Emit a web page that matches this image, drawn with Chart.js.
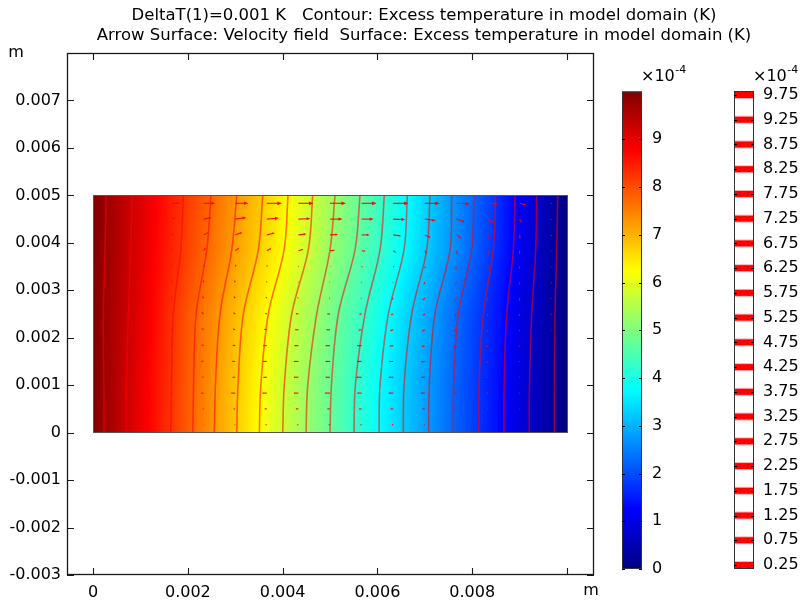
<!DOCTYPE html>
<html><head><meta charset="utf-8">
<script src="https://cdn.jsdelivr.net/npm/chart.js@4.4.1/dist/chart.umd.min.js"></script>
<style>html,body{margin:0;padding:0;background:#fff;}#wrap{width:802px;height:600px;}</style>
</head><body><div id="wrap"><canvas id="c" width="802" height="600"></canvas></div>
<script>
// ---------- text ----------
const titleLines = [
  "DeltaT(1)=0.001 K   Contour: Excess temperature in model domain (K)",
  "Arrow Surface: Velocity field  Surface: Excess temperature in model domain (K)"
];
const axisUnit = "m";
// ---------- axes ----------
const xTickValues = [0, 0.002, 0.004, 0.006, 0.008, 0.01];
const xTickLabels = ["0", "0.002", "0.004", "0.006", "0.008", ""];
const yTickValues = [-0.003, -0.002, -0.001, 0, 0.001, 0.002, 0.003, 0.004, 0.005, 0.006, 0.007];
const yTickLabels = ["-0.003", "-0.002", "-0.001", "0", "0.001", "0.002", "0.003", "0.004", "0.005", "0.006", "0.007"];
// ---------- domain ----------
const domainX = [0, 0.01];
const domainY = [0, 0.005];
const tLeft = 1.0e-3, tRight = 0;   // K at hot / cold wall
const tMax = 1.0e-3, tMin = 0;
// ---------- contours (levels, K) ----------
const contourLevels = [9.75e-4, 9.25e-4, 8.75e-4, 8.25e-4, 7.75e-4, 7.25e-4, 6.75e-4, 6.25e-4, 5.75e-4, 5.25e-4,
                       4.75e-4, 4.25e-4, 3.75e-4, 3.25e-4, 2.75e-4, 2.25e-4, 1.75e-4, 1.25e-4, 0.75e-4, 0.25e-4];
const contourRowY = [0, 0.001, 0.0025, 0.00385, 0.005];
const contourXAtY0 = [0.000232, 0.000696, 0.001167, 0.001639, 0.002103, 0.002559, 0.003032, 0.003508, 0.004002, 0.004494,
                      0.005000, 0.005506, 0.006034, 0.006546, 0.007082, 0.007601, 0.008137, 0.008671, 0.009205, 0.009732];
const contourXAtY1 = [0.000228, 0.000705, 0.001180, 0.001655, 0.002122, 0.002582, 0.003058, 0.003540, 0.004035, 0.004530,
                      0.005030, 0.005535, 0.006055, 0.006562, 0.007095, 0.007610, 0.008143, 0.008675, 0.009208, 0.009734];
const contourXAtY2 = [0.000217, 0.000745, 0.001238, 0.001694, 0.002173, 0.002679, 0.003171, 0.003698, 0.004192, 0.004719,
                      0.005175, 0.005738, 0.006230, 0.006724, 0.007215, 0.007707, 0.008234, 0.008728, 0.009255, 0.009747];
const contourXAtY3 = [0.000253, 0.000795, 0.001308, 0.001850, 0.002399, 0.002926, 0.003487, 0.004030, 0.004542, 0.005000,
                      0.005527, 0.006055, 0.006561, 0.007040, 0.007532, 0.007989, 0.008445, 0.008867, 0.009340, 0.009783];
const contourXAtY4 = [0.000274, 0.000816, 0.001365, 0.001905, 0.002489, 0.003032, 0.003580, 0.004114, 0.004635, 0.005105,
                      0.005633, 0.006146, 0.006631, 0.007110, 0.007568, 0.008038, 0.008496, 0.008903, 0.009361, 0.009804];
const contourRows = [contourXAtY0, contourXAtY1, contourXAtY2, contourXAtY3, contourXAtY4];
// ---------- velocity arrows (relative units) ----------
const arrowX = [0.000333, 0.001, 0.001667, 0.002333, 0.003, 0.003667, 0.004333, 0.005, 0.005667, 0.006333, 0.007, 0.007667, 0.008333, 0.009, 0.009667];
const arrowY = [0.000167, 0.0005, 0.000833, 0.001167, 0.0015, 0.001833, 0.002167, 0.0025, 0.002833, 0.003167, 0.0035, 0.003833, 0.004167, 0.0045, 0.004833];
const arrowU = [
  [0, 0, -0.2, -0.5, -1, -1.5, -1.5, -1.5, -1.5, -1.5, -1, -0.5, 0, 0, 0],
  [0, -0.2, -0.5, -1, -2, -2.5, -3, -3, -3, -3, -2.5, -2, -1, -0.5, 0],
  [0, -0.3, -1, -3, -4.5, -5, -5, -5.5, -5, -5, -4.5, -3.5, -2, -1, 0],
  [0, -0.3, -1, -2, -3, -4, -5, -5, -5.5, -5, -4, -3, -2, -1, 0],
  [0, -0.3, -1, -2.5, -3.5, -4.5, -5, -5, -5, -5, -4, -3, -2, -1, 0],
  [0, -0.3, -1, -2, -3, -4, -4.5, -5, -5, -4, -3.5, -3, -2, -1, 0],
  [0, -0.2, -1, -2, -2.5, -3, -3.5, -4, -3.5, -3, -3, -2.5, -1.5, -0.5, 0],
  [0, -0.2, -0.7, -2, -2, -2, -3, -3, -2.5, -2.5, -2, -2, -1, -0.5, 0],
  [0, 0, -0.5, -1.5, -1.5, -1, -1, -1, -1, -1.5, -2, -1.5, -1, 0, 0],
  [0, 0, -0.3, -0.5, -1, -0.5, -0.5, -0.5, -0.5, -0.5, -1, -1, -0.5, 0, 0],
  [0, 0, 0, 1, 1, 0.5, 0.5, 0.5, 1, 1, 0.5, -0.5, 0, 0, 0],
  [0, 0, 0.5, 2, 4, 4.5, 5, 5, 4, 3, 2, 1, 0.5, 0, 0],
  [0, 0, 1, 5, 7, 8, 8, 8, 8, 8, 6, 5, 2.5, 0.5, 0],
  [0, 0.3, 3, 8, 11, 12, 12, 12.5, 12, 12, 11, 8.5, 6, 2.5, 0.3],
  [0, 0.5, 8, 11.5, 13, 15, 15, 16, 15, 15.5, 15, 13, 10, 6.5, 1]
];
const arrowV = [
  [0, 0, 0, 0, 0, 0, 0, 0, 0, 0, 0, 0, 0, 0, 0],
  [0, 0, 0, 0, 0, 0, 0, 0, 0, 0, 0, 0, 0, 0, 0],
  [0, 0, 0, 0, 0, 0, 0, 0, 0, 0, 0, 0, 0, 0, 0],
  [0, 0, 0.2, 0.3, 0, 0, 0, 0, 0, 0, 0, -0.3, -0.3, 0, 0],
  [0, 0.1, 0.5, 0.5, 0.3, 0, 0, 0, 0, 0, -0.5, -0.5, -1, -0.5, -0.2],
  [0, 0.2, 0.7, 1, 0.5, 0, 0, 0, 0, -0.5, -1, -1, -1.5, -1, -0.3],
  [0, 0.3, 1, 1.5, 1, 0.5, 0, 0, -0.5, -1, -1.5, -1.5, -2, -1.5, -0.5],
  [0, 0.4, 1.2, 2, 1.5, 1, 0.5, 0, -0.5, -1, -1.5, -2, -2.5, -2, -1],
  [0, 0.5, 1.5, 2, 2, 1.5, 0.5, 0, 0, -1.5, -2, -2.5, -2.5, -2.5, -1],
  [0, 0.5, 1.5, 2, 2, 1, 0.5, 0, -0.5, -0.5, -2, -2.5, -3, -2.5, -1],
  [0, 0.5, 1.5, 2, 2, 1.5, 0.5, 0, -0.5, -0.5, -2, -2.5, -3, -2.5, -1],
  [0, 0.5, 1.5, 3, 3, 2.5, 1.5, 0.5, -0.5, -2, -3, -3.5, -4, -3.5, -1],
  [0, 0.3, 1.5, 2.5, 2.5, 2, 1, 0.5, 0, -1, -2.5, -3.5, -4.5, -4, -1.5],
  [0, 0.2, 1, 1.5, 1.5, 1, 0.5, 0, 0, -0.5, -1.5, -3, -4, -3.5, -1],
  [0, 0, 0, 0, 0, 0, 0, 0, 0, 0, 0, -0.5, -1, -1.5, -0.5]
];
const arrowScale = 2.11e-5; // m per arrow unit
// ---------- colour table (rainbow / jet) ----------
const cmapPos = [0, 0.125, 0.375, 0.625, 0.875, 1];
const cmapR = [0, 0, 0, 255, 255, 128];
const cmapG = [0, 0, 255, 255, 0, 0];
const cmapB = [128, 255, 255, 0, 0, 0];
const colorbarTicks = [0, 1, 2, 3, 4, 5, 6, 7, 8, 9];
const colorbarTickLabels = ["0", "1", "2", "3", "4", "5", "6", "7", "8", "9"];
const legendLabels = ["9.75", "9.25", "8.75", "8.25", "7.75", "7.25", "6.75", "6.25", "5.75", "5.25",
                      "4.75", "4.25", "3.75", "3.25", "2.75", "2.25", "1.75", "1.25", "0.75", "0.25"];
const scaleExponent = "-4";

const FONT = "'DejaVu Sans', Verdana, sans-serif";
const TICK_SIZE = 16;

function jet(f) {
  f = Math.max(0, Math.min(1, f));
  let i = 0;
  while (i < cmapPos.length - 2 && f > cmapPos[i + 1]) i++;
  const t = (f - cmapPos[i]) / (cmapPos[i + 1] - cmapPos[i]);
  return [cmapR[i] + (cmapR[i + 1] - cmapR[i]) * t,
          cmapG[i] + (cmapG[i + 1] - cmapG[i]) * t,
          cmapB[i] + (cmapB[i + 1] - cmapB[i]) * t];
}
function contourXAt(k, y) {
  let r = 0;
  while (r < contourRowY.length - 2 && y > contourRowY[r + 1]) r++;
  const t = Math.max(0, Math.min(1, (y - contourRowY[r]) / (contourRowY[r + 1] - contourRowY[r])));
  return contourRows[r][k] + (contourRows[r + 1][k] - contourRows[r][k]) * t;
}

const contourDatasets = contourLevels.map((lv, k) => ({
  label: String(lv),
  data: contourRowY.map((y, r) => ({ x: contourRows[r][k], y: y })),
  showLine: true,
  pointRadius: 0,
  borderColor: 'rgba(255,0,0,0.55)',
  borderWidth: 1.6,
  tension: 0.35,
  fill: false
}));

const fieldPlugin = {
  id: 'field',
  beforeDatasetsDraw(chart) {
    const xs = chart.scales.x, ys = chart.scales.y, ctx = chart.ctx;
    const px0 = Math.round(xs.getPixelForValue(domainX[0])), px1 = Math.round(xs.getPixelForValue(domainX[1]));
    const py0 = Math.round(ys.getPixelForValue(domainY[1])), py1 = Math.round(ys.getPixelForValue(domainY[0]));
    const w = px1 - px0, h = py1 - py0;
    const off = document.createElement('canvas'); off.width = w; off.height = h;
    const octx = off.getContext('2d');
    const img = octx.createImageData(w, h);
    for (let r = 0; r < h; r++) {
      const yv = ys.getValueForPixel(py0 + r + 0.5);
      const bx = [domainX[0]], bt = [tLeft];
      for (let k = 0; k < contourLevels.length; k++) { bx.push(contourXAt(k, yv)); bt.push(contourLevels[k]); }
      bx.push(domainX[1]); bt.push(tRight);
      let seg = 0;
      for (let c = 0; c < w; c++) {
        const xv = xs.getValueForPixel(px0 + c + 0.5);
        while (seg < bx.length - 2 && xv > bx[seg + 1]) seg++;
        const f = Math.max(0, Math.min(1, (xv - bx[seg]) / (bx[seg + 1] - bx[seg])));
        const t = bt[seg] + (bt[seg + 1] - bt[seg]) * f;
        const col = jet((t - tMin) / (tMax - tMin));
        const idx = (r * w + c) * 4;
        img.data[idx] = col[0]; img.data[idx + 1] = col[1]; img.data[idx + 2] = col[2]; img.data[idx + 3] = 255;
      }
    }
    octx.putImageData(img, 0, 0);
    ctx.drawImage(off, px0, py0);
  }
};

const overlayPlugin = {
  id: 'overlay',
  afterDatasetsDraw(chart) {
    const xs = chart.scales.x, ys = chart.scales.y, ctx = chart.ctx;
    ctx.save();
    // arrows
    ctx.strokeStyle = 'rgba(255,0,0,0.95)';
    ctx.fillStyle = 'rgba(255,0,0,0.95)';
    ctx.lineWidth = 1.1;
    for (let j = 0; j < arrowY.length; j++) {
      for (let i = 0; i < arrowX.length; i++) {
        const u = arrowU[j][i], v = arrowV[j][i];
        const x0 = xs.getPixelForValue(arrowX[i]), y0 = ys.getPixelForValue(arrowY[j]);
        const x1 = xs.getPixelForValue(arrowX[i] + u * arrowScale), y1 = ys.getPixelForValue(arrowY[j] + v * arrowScale);
        const dx = x1 - x0, dy = y1 - y0, L = Math.hypot(dx, dy);
        if (L < 0.4) continue;
        const ux = dx / L, uy = dy / L;
        const hl = Math.min(0.32 * L, 4.5), hw = hl * 0.42;
        ctx.beginPath(); ctx.moveTo(x0, y0); ctx.lineTo(x1 - ux * hl * 0.6, y1 - uy * hl * 0.6); ctx.stroke();
        ctx.beginPath();
        ctx.moveTo(x1, y1);
        ctx.lineTo(x1 - ux * hl - uy * hw, y1 - uy * hl + ux * hw);
        ctx.lineTo(x1 - ux * hl + uy * hw, y1 - uy * hl - ux * hw);
        ctx.closePath(); ctx.fill();
      }
    }
    // domain outline
    const dx0 = xs.getPixelForValue(domainX[0]), dx1 = xs.getPixelForValue(domainX[1]);
    const dy0 = ys.getPixelForValue(domainY[1]), dy1 = ys.getPixelForValue(domainY[0]);
    ctx.strokeStyle = '#555'; ctx.lineWidth = 1;
    ctx.strokeRect(Math.round(dx0) + 0.5, Math.round(dy0) + 0.5, Math.round(dx1 - dx0), Math.round(dy1 - dy0));
    ctx.restore();
  },
  afterDraw(chart) {
    const xs = chart.scales.x, ys = chart.scales.y, ctx = chart.ctx, a = chart.chartArea;
    ctx.save();
    // frame
    ctx.strokeStyle = '#1a1a1a'; ctx.lineWidth = 1.3;
    ctx.strokeRect(a.left + 0.5, a.top + 0.5, a.right - a.left - 1, a.bottom - a.top - 1);
    ctx.lineWidth = 1.1;
    ctx.beginPath();
    xTickValues.forEach(v => {
      const p = Math.round(xs.getPixelForValue(v)) + 0.5;
      ctx.moveTo(p, a.bottom); ctx.lineTo(p, a.bottom - 7);
      ctx.moveTo(p, a.top); ctx.lineTo(p, a.top + 7);
    });
    yTickValues.forEach(v => {
      const p = Math.round(ys.getPixelForValue(v)) + 0.5;
      ctx.moveTo(a.left, p); ctx.lineTo(a.left + 7, p);
      ctx.moveTo(a.right, p); ctx.lineTo(a.right - 7, p);
    });
    ctx.stroke();
    // unit labels
    ctx.fillStyle = '#000';
    ctx.font = TICK_SIZE + 'px ' + FONT;
    ctx.textBaseline = 'middle'; ctx.textAlign = 'center';
    ctx.fillText(axisUnit, 16, 53);
    ctx.fillText(axisUnit, 591, 591);
    // titles
    ctx.font = '16.5px ' + FONT;
    ctx.fillText(titleLines[0], 424, 16);
    ctx.fillText(titleLines[1], 424, 36);

    // colour bar
    const cbL = 622, cbR = 642, cbT = 91.5, cbB = 569;
    const cbVal = v => cbB - (v - 0) / (10 - 0) * (cbB - cbT);
    const g = ctx.createLinearGradient(0, cbB, 0, cbT);
    cmapPos.forEach((p, i) => g.addColorStop(p, `rgb(${cmapR[i]},${cmapG[i]},${cmapB[i]})`));
    ctx.fillStyle = g;
    ctx.fillRect(cbL, cbT, cbR - cbL, cbB - cbT);
    ctx.strokeStyle = '#333'; ctx.lineWidth = 1;
    ctx.strokeRect(cbL + 0.5, cbT + 0.5, cbR - cbL - 1, cbB - cbT - 1);
    ctx.strokeStyle = '#000';
    ctx.beginPath();
    colorbarTicks.forEach(v => {
      const p = Math.round(cbVal(v)) + 0.5;
      ctx.moveTo(cbL, p); ctx.lineTo(cbL + 3, p);
      ctx.moveTo(cbR, p); ctx.lineTo(cbR - 3, p);
    });
    ctx.stroke();
    ctx.fillStyle = '#000';
    ctx.font = TICK_SIZE + 'px ' + FONT; ctx.textAlign = 'left'; ctx.textBaseline = 'middle';
    colorbarTicks.forEach((v, i) => ctx.fillText(colorbarTickLabels[i], 652, cbVal(v)));

    // contour legend
    const lgL = 734, lgR = 754, lgT = 91, lgB = 569;
    const lgTop = 95, lgBot = 565;
    ctx.fillStyle = '#fff'; ctx.fillRect(lgL, lgT, lgR - lgL, lgB - lgT);
    legendLabels.forEach((lab, i) => {
      const p = lgTop + i * (lgBot - lgTop) / (legendLabels.length - 1);
      ctx.fillStyle = 'rgba(255,0,0,0.3)'; ctx.fillRect(lgL, p - 4, lgR - lgL, 8);
      ctx.fillStyle = '#ff0000'; ctx.fillRect(lgL, p - 3, lgR - lgL, 6);
    });
    ctx.strokeStyle = '#333'; ctx.lineWidth = 1;
    ctx.strokeRect(lgL + 0.5, lgT + 0.5, lgR - lgL - 1, lgB - lgT - 1);
    ctx.strokeStyle = '#000';
    ctx.beginPath();
    legendLabels.forEach((lab, i) => {
      const p = Math.round(lgTop + i * (lgBot - lgTop) / (legendLabels.length - 1)) + 0.5;
      ctx.moveTo(lgL, p); ctx.lineTo(lgL + 3, p);
      ctx.moveTo(lgR, p); ctx.lineTo(lgR - 3, p);
    });
    ctx.stroke();
    ctx.fillStyle = '#000';
    legendLabels.forEach((lab, i) => {
      const p = lgTop + i * (lgBot - lgTop) / (legendLabels.length - 1);
      ctx.fillText(lab, 763, p);
    });
    // exponent labels
    [[641, 77], [753, 77]].forEach(([x, y]) => {
      ctx.font = TICK_SIZE + 'px ' + FONT; ctx.textAlign = 'left'; ctx.textBaseline = 'middle';
      ctx.fillText('\u00d710', x, y);
      const w = ctx.measureText('\u00d710').width;
      ctx.font = '11px ' + FONT;
      ctx.fillText(scaleExponent, x + w + 0.5, y - 7);
    });
    ctx.restore();
  }
};

Chart.defaults.color = '#000';
Chart.defaults.font.family = FONT;

new Chart(document.getElementById('c'), {
  type: 'scatter',
  data: { datasets: contourDatasets },
  options: {
    responsive: false,
    animation: false,
    devicePixelRatio: 1,
    layout: { padding: { left: 0, top: 53, right: 208, bottom: 0 } },
    plugins: { legend: { display: false }, title: { display: false }, tooltip: { enabled: false } },
    scales: {
      x: {
        type: 'linear', min: -0.00055, max: 0.01057,
        grid: { display: false, drawTicks: false }, border: { display: false },
        afterBuildTicks: s => { s.ticks = xTickValues.map(v => ({ value: v })); },
        afterFit: s => { s.height = 25; },
        ticks: { font: { size: TICK_SIZE }, padding: 8, maxRotation: 0, autoSkip: false,
                 callback: (v) => { const i = xTickValues.findIndex(t => Math.abs(t - v) < 1e-9); return i >= 0 ? xTickLabels[i] : ''; } }
      },
      y: {
        type: 'linear', min: -0.003, max: 0.008,
        grid: { display: false, drawTicks: false }, border: { display: false },
        afterBuildTicks: s => { s.ticks = yTickValues.map(v => ({ value: v })); },
        afterFit: s => { s.width = 67; },
        ticks: { font: { size: TICK_SIZE }, padding: 6, autoSkip: false,
                 callback: (v) => { const i = yTickValues.findIndex(t => Math.abs(t - v) < 1e-9); return i >= 0 ? yTickLabels[i] : ''; } }
      }
    }
  },
  plugins: [fieldPlugin, overlayPlugin]
});
</script>
</body></html>
